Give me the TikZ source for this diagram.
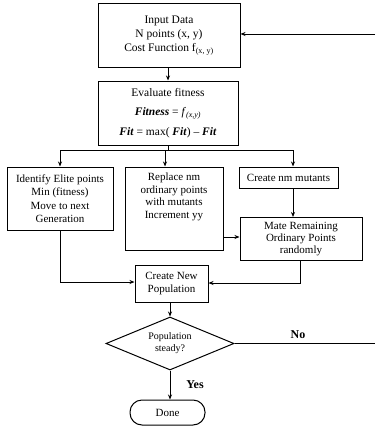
\documentclass[tikz,border=0pt]{standalone}
\usepackage{fontspec}
\setmainfont{Liberation Serif}
\usetikzlibrary{shapes.geometric,arrows.meta}
\begin{document}
\begin{tikzpicture}[x=1pt,y=-1pt,
  box/.style={draw,line width=1pt,inner sep=0pt,align=center,font=\fontsize{11}{13.5}\selectfont},
  txt/.style={inner sep=0pt,align=center,font=\fontsize{11}{12.5}\selectfont},
  conn/.style={line width=0.9pt},
  arr/.style={line width=0.9pt,-{Stealth[length=5pt,width=4pt]}}]
\useasboundingbox (0,0) rectangle (375,428);
\node[box,minimum width=142pt,minimum height=63pt,font=\fontsize{11.5}{14}\selectfont] (inp) at (169,35.5)
  {Input Data\\N points (x, y)\\Cost Function f\textsubscript{(x, y)}};
\node[box,minimum width=140pt,minimum height=64pt,font=\fontsize{11.5}{19.5}\selectfont] (eval) at (168,113)
  {Evaluate fitness\\\textbf{\textit{Fitness}} = \textit{f}\textsubscript{\textit{(x,y)}}\\\textbf{\textit{Fit}} = max( \textbf{\textit{Fit}}) -- \textbf{\textit{Fit}}};
\node[box,minimum width=106pt,minimum height=63pt] (elite) at (60,198.5)
  {Identify Elite points\\Min (fitness)\\Move to next\\Generation};
\node[box,minimum width=98pt,minimum height=83pt] (rep) at (174,208.5) {};
\node[txt,anchor=north] (reptxt) at (174,173)
  {Replace nm\\ordinary points\\with mutants\\Increment yy};
\node[box,minimum width=99pt,minimum height=21pt] (mut) at (288.5,177.5) {Create nm mutants};
\node[box,minimum width=122pt,minimum height=43pt,font=\fontsize{11}{12}\selectfont] (mate) at (301,239)
  {Mate Remaining\\Ordinary Points\\randomly};
\node[box,minimum width=73pt,minimum height=37pt] (cnew) at (171.5,283.5)
  {Create New\\Population};
\node[box,diamond,aspect=2.42,minimum width=128pt,minimum height=53pt,font=\fontsize{10}{12}\selectfont] (dec) at (170,343.5)
  {Population\\steady?};
\node[box,rounded corners=12pt,minimum width=75pt,minimum height=25pt] (done) at (167.5,412.5) {Done};
\coordinate (br) at (168,150);
\coordinate (noend) at (375,343.5);
\coordinate (backin) at (375,34);
\draw[arr] (inp.south -| br) -- (eval.north -| br);
\draw[conn] (eval.south -| br) -- (br);
\draw[conn] (60,150) -- (293,150);
\draw[arr] (60,150) -- (elite.north);
\draw[arr] (165,150) -- (rep.north -| 165,0);
\draw[arr] (293,150) -- (mut.north -| 293,0);
\draw[arr] (mut.south -| 293,0) -- (mate.north -| 293,0);
\draw[arr] (rep.east |- 0,237) -- (mate.west |- 0,237);
\draw[arr] (mate.south -| 300,0) |- (cnew.east |- 0,283);
\draw[arr] (elite.south) |- (cnew.west |- 0,282);
\draw[arr] (cnew.south -| dec.north) -- (dec.north);
\draw[conn] (dec.east) -- (noend);
\draw[arr] (backin) -- (inp.east |- backin);
\draw[arr] (dec.south) -- (done.north -| dec.south);
\node[txt,font=\fontsize{12}{14}\bfseries] (no) at (298,335) {No};
\node[txt,font=\fontsize{12}{14}\bfseries] (yes) at (195,385) {Yes};
\end{tikzpicture}
\end{document}
